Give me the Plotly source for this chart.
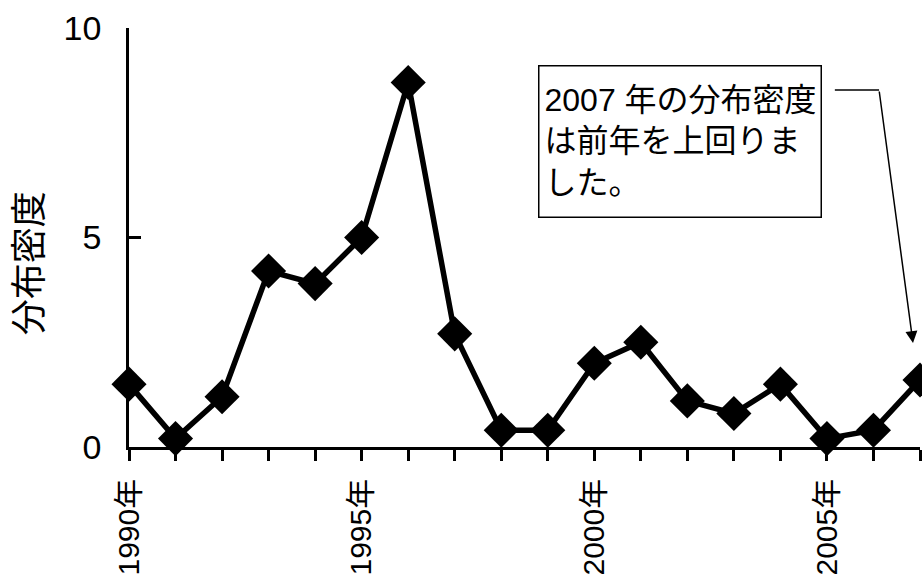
import plotly.graph_objects as go

years = list(range(1990, 2008))
density = [1.5, 0.2, 1.2, 4.2, 3.9, 5.0, 8.7, 2.7, 0.4, 0.4, 2.0, 2.5, 1.1, 0.8, 1.5, 0.2, 0.4, 1.6]
label_years = [1990, 1995, 2000, 2005]
tick_text = [f"{y}年" if y in label_years else "" for y in years]
y_title = "分布密度"
note_text = "2007 年の分布密度<br>は前年を上回りま<br>した。"

FONT = "Liberation Sans, Arial, Noto Sans CJK JP, sans-serif"

fig = go.Figure()
fig.add_trace(go.Scatter(
    x=years, y=density, mode="lines+markers",
    line=dict(color="black", width=5.5),
    marker=dict(symbol="diamond", size=27, color="black"),
    cliponaxis=False, showlegend=False,
))

fig.update_layout(
    width=922, height=584,
    margin=dict(l=129, r=2, t=28, b=137, autoexpand=False),
    paper_bgcolor="white", plot_bgcolor="white",
    font=dict(family=FONT, color="black", size=33),
    xaxis=dict(
        range=[1990, 2007], tickvals=years, ticktext=tick_text, automargin=False,
        tickangle=-90, ticks="outside", ticklen=11, tickwidth=2.5, tickcolor="black",
        showline=True, linecolor="black", linewidth=2.5, showgrid=False, zeroline=False,
        tickfont=dict(size=30), ticklabelstandoff=6,
    ),
    yaxis=dict(
        range=[0, 10], tickvals=[0, 5, 10], ticks="inside", ticklen=12, tickwidth=2.5,
        tickcolor="black", showline=True, linecolor="black", linewidth=2.5, automargin=False,
        showgrid=False, zeroline=False, tickfont=dict(size=34), ticklabelstandoff=18,
    ),
)

fig.add_annotation(
    text=y_title, xref="paper", yref="paper", x=-0.130, y=0.439,
    textangle=-90, showarrow=False, font=dict(size=36, family="Noto Sans CJK JP"),
    xanchor="center", yanchor="middle",
)

fig.add_annotation(
    text=note_text, xref="x", yref="y", x=1998.79, y=9.12,
    xanchor="left", yanchor="top", align="left", valign="middle", showarrow=False,
    width=271, height=140,
    bordercolor="black", borderwidth=1.5, borderpad=5, bgcolor="white",
    font=dict(size=32, family="Liberation Sans, Noto Sans CJK JP"),
)

fig.add_shape(type="line", xref="x", yref="y", x0=2005.17, x1=2006.12, y0=8.52, y1=8.52,
              line=dict(color="black", width=1.5))
fig.add_annotation(
    text="", xref="x", yref="y", x=2006.85, y=2.48, ax=2006.12, ay=8.52,
    axref="x", ayref="y", showarrow=True, arrowhead=2, arrowsize=1.6, arrowwidth=1.5,
    arrowcolor="black", standoff=0,
)

fig.write_html("out.html")
